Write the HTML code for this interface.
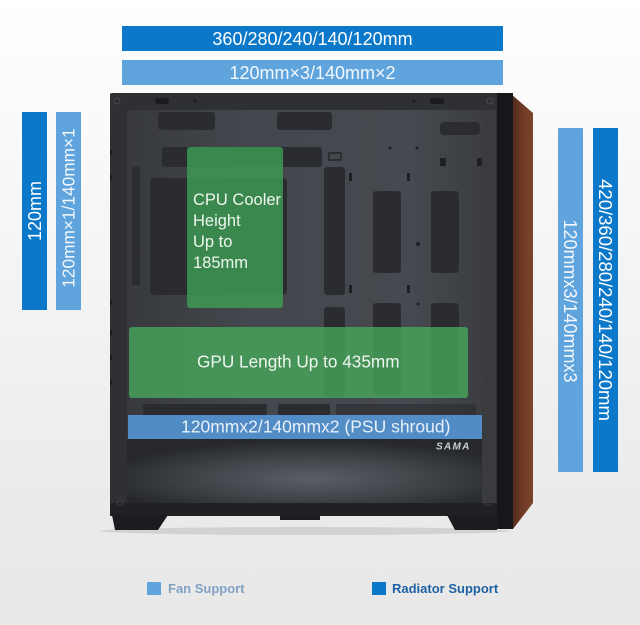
<!DOCTYPE html>
<html><head><meta charset="utf-8"><style>
html,body{margin:0;padding:0;width:640px;height:625px;overflow:hidden;background:#f0f0f0}
svg{display:block}
</style></head><body>
<svg width="640" height="625" viewBox="0 0 640 625" xmlns="http://www.w3.org/2000/svg" font-family="'Liberation Sans', sans-serif">
<defs>
<linearGradient id="bg" x1="0" y1="0" x2="0" y2="1">
<stop offset="0" stop-color="#ffffff"/><stop offset="0.35" stop-color="#f6f6f6"/><stop offset="0.8" stop-color="#ebebeb"/><stop offset="1" stop-color="#e8e8e8"/>
</linearGradient>
<linearGradient id="wood" x1="0" y1="0" x2="1" y2="0">
<stop offset="0" stop-color="#4e2717"/><stop offset="0.5" stop-color="#6e3a25"/><stop offset="1" stop-color="#7d452d"/>
</linearGradient>
<linearGradient id="inner" x1="0" y1="0" x2="1" y2="0">
<stop offset="0" stop-color="#37393e"/><stop offset="0.35" stop-color="#44474d"/><stop offset="0.8" stop-color="#46494f"/><stop offset="1" stop-color="#3b3d42"/>
</linearGradient>
<radialGradient id="psu" cx="0.52" cy="0.62" r="0.6">
<stop offset="0" stop-color="#5b5e65"/><stop offset="0.6" stop-color="#3d4045"/><stop offset="1" stop-color="#26282c"/>
</radialGradient>
</defs>
<rect x="0" y="0" width="640" height="625" fill="url(#bg)"/>

<!-- top bars -->
<rect x="122" y="26" width="381" height="25" fill="#0b78c9"/>
<text x="312.5" y="45" font-size="18" fill="#ffffff" text-anchor="middle">360/280/240/140/120mm</text>
<rect x="122" y="60" width="381" height="25" fill="#5fa4dd"/>
<text x="312.5" y="79" font-size="18" fill="#f4f8fc" text-anchor="middle">120mm×3/140mm×2</text>

<!-- left bars -->
<rect x="22" y="112" width="25" height="198" fill="#0b78c9"/>
<text transform="translate(34.5,211) rotate(-90)" y="6.4" font-size="18" fill="#ffffff" text-anchor="middle">120mm</text>
<rect x="56" y="112" width="25" height="198" fill="#5fa4dd"/>
<text transform="translate(68.5,208) rotate(-90)" y="6.2" font-size="17.3" fill="#f4f8fc" text-anchor="middle">120mm×1/140mm×1</text>

<!-- right bars -->
<rect x="558" y="128" width="25" height="344" fill="#5fa4dd"/>
<text transform="translate(570.5,301) rotate(90)" y="6.4" font-size="18" fill="#f4f8fc" text-anchor="middle">120mmx3/140mmx3</text>
<rect x="593" y="128" width="25" height="344" fill="#0b78c9"/>
<text transform="translate(605.5,300) rotate(90)" y="6.4" font-size="18.5" fill="#ffffff" text-anchor="middle">420/360/280/240/140/120mm</text>

<!-- case shadow -->
<ellipse cx="305" cy="531" rx="205" ry="4" fill="#000" opacity="0.10"/>

<!-- wood side -->
<polygon points="511,94 533,113 533,503 513,529" fill="url(#wood)"/>
<!-- black front strip -->
<rect x="496" y="93" width="17" height="436" fill="#16171a"/>
<!-- outer frame -->
<rect x="110" y="93" width="387" height="423" rx="2" fill="#2e3034"/>
<rect x="482" y="110" width="14" height="393" fill="#393b3f"/>
<!-- interior -->
<rect x="127" y="110" width="355" height="393" fill="url(#inner)"/>

<!-- cutouts -->
<g fill="#2a2c30">
<rect x="158" y="112" width="57" height="18" rx="3"/>
<rect x="277" y="112" width="55" height="18" rx="3"/>
<rect x="440" y="122" width="40" height="13" rx="4"/>
<rect x="162" y="147" width="160" height="20" rx="3"/>
<rect x="150" y="178" width="137" height="117" rx="4"/>
<rect x="324" y="167" width="21" height="128" rx="3"/>
<rect x="324" y="307" width="21" height="90" rx="3"/>
<rect x="373" y="191" width="28" height="82" rx="3"/>
<rect x="431" y="191" width="28" height="82" rx="3"/>
<rect x="373" y="303" width="28" height="92" rx="3"/>
<rect x="431" y="303" width="28" height="92" rx="3"/>
<rect x="132" y="167" width="8" height="118" rx="2"/>
<rect x="143" y="404" width="124" height="11" rx="2"/>
<rect x="278" y="404" width="52" height="11" rx="2"/>
<rect x="336" y="404" width="140" height="11" rx="1" opacity="0.6"/>
</g>
<g fill="#1e1f22">
<circle cx="390" cy="148" r="1.5"/><circle cx="417" cy="148" r="1.5"/><circle cx="281" cy="148" r="1.5"/>
<rect x="440" y="158" width="6" height="8"/><rect x="477" y="158" width="5" height="8"/>
<circle cx="418" cy="244" r="2"/><circle cx="418" cy="304" r="1.5"/>
<rect x="349" y="173" width="3" height="8"/><rect x="407" y="173" width="3" height="8"/>
<rect x="349" y="285" width="3" height="8"/><rect x="407" y="285" width="3" height="8"/>
</g>
<rect x="329" y="153" width="12" height="7" fill="none" stroke="#1e1f22" stroke-width="1.2"/>
<g fill="#1b1c1f">
<rect x="110" y="150" width="2" height="5"/><rect x="110" y="175" width="2" height="5"/>
<rect x="110" y="300" width="2" height="5"/><rect x="110" y="330" width="2" height="5"/>
<rect x="110" y="355" width="2" height="5"/><rect x="110" y="380" width="2" height="5"/>
</g>

<!-- PSU shroud area -->
<rect x="127" y="439" width="355" height="64" fill="url(#psu)"/>
<!-- bottom frame -->
<rect x="110" y="503" width="387" height="13" fill="#1f2124"/>
<circle cx="120" cy="503" r="3" fill="none" stroke="#3b3d42" stroke-width="1.2"/>
<circle cx="488" cy="503" r="3" fill="none" stroke="#3b3d42" stroke-width="1.2"/>
<circle cx="117" cy="101" r="3" fill="none" stroke="#45474c" stroke-width="1.2"/>
<circle cx="490" cy="101" r="3" fill="none" stroke="#45474c" stroke-width="1.2"/>
<g fill="#1b1c1f">
<rect x="155" y="98" width="14" height="6" rx="2"/><circle cx="195" cy="101" r="1.5"/>
<rect x="430" y="98" width="14" height="6" rx="2"/><circle cx="414" cy="101" r="1.5"/>
</g>
<!-- feet -->
<g fill="#1b1c1f">
<polygon points="112,515 168,515 158,530 115,530"/>
<polygon points="447,515 497,515 497,530 455,530"/>
<rect x="280" y="515" width="40" height="5"/>
</g>

<!-- green overlays -->
<rect x="187" y="147" width="96" height="161" rx="3" fill="#3f9c55" opacity="0.82"/>
<rect x="129" y="327" width="339" height="71" rx="3" fill="#47a85b" opacity="0.8"/>
<g font-size="16.5" fill="#eef6ee">
<text x="193" y="205">CPU Cooler</text>
<text x="193" y="226">Height</text>
<text x="193" y="247">Up to</text>
<text x="193" y="268">185mm</text>
</g>
<text x="197" y="367.5" font-size="17.2" fill="#eef6ee">GPU Length Up to 435mm</text>

<!-- PSU bar -->
<rect x="128" y="415" width="354" height="24" fill="#5496d7" opacity="0.88"/>
<text x="181" y="432.5" font-size="17.5" fill="#e8f0f8">120mmx2/140mmx2 (PSU shroud)</text>
<text x="436" y="449.5" font-size="10" font-weight="bold" font-style="italic" fill="#c9cdd3" letter-spacing="1.3">SAMA</text>

<!-- legend -->
<rect x="147" y="582" width="14" height="13" fill="#5fa4dd"/>
<text x="168" y="593" font-size="13" font-weight="bold" fill="#80a2c3">Fan Support</text>
<rect x="372" y="582" width="14" height="13" fill="#0b78c9"/>
<text x="392" y="593" font-size="13" font-weight="bold" fill="#1f62a3">Radiator Support</text>
</svg>
</body></html>
